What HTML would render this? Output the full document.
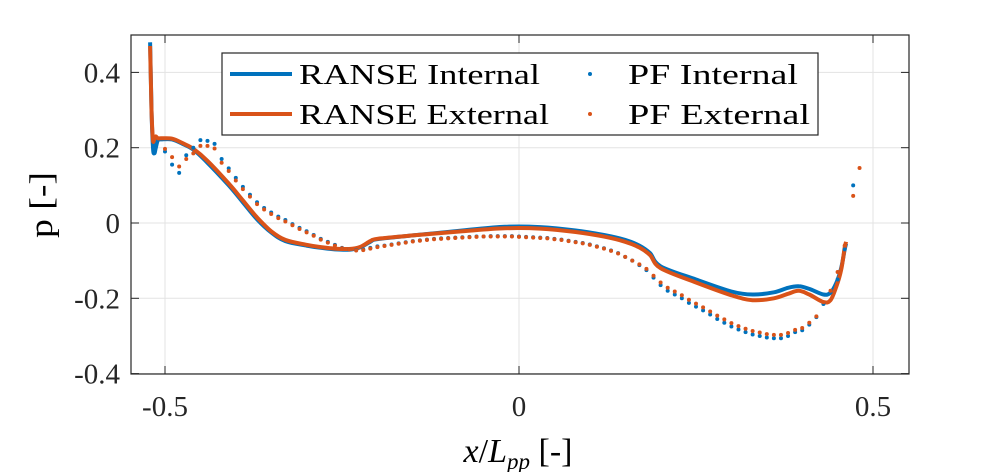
<!DOCTYPE html>
<html><head><meta charset="utf-8"><style>
html,body{margin:0;padding:0;background:#fff;}
svg{display:block;font-family:"Liberation Serif",serif;}
</style></head><body>
<svg id="chart" width="1004" height="472" viewBox="0 0 1004 472" xmlns="http://www.w3.org/2000/svg">
<rect x="0" y="0" width="1004" height="472" fill="#fff"/>
<g id="grid"></g>
<g id="series"></g>
<g id="axes"></g>
<text x="52" y="205" font-size="33" text-anchor="middle" textLength="66" lengthAdjust="spacingAndGlyphs" transform="rotate(-90 52 205)">p [-]</text>
<text x="518" y="462" font-size="34" text-anchor="middle"><tspan font-style="italic">x</tspan>/<tspan font-style="italic">L</tspan><tspan font-style="italic" font-size="23" dy="7">pp</tspan><tspan dy="-7"> [-]</tspan></text>
<g>
<rect x="222" y="53" width="596" height="82" fill="#fff" stroke="#262626" stroke-width="1.2"/>
<line x1="230" y1="74" x2="292" y2="74" stroke="#0072BD" stroke-width="4"/>
<text x="299" y="84" font-size="29" textLength="241" lengthAdjust="spacingAndGlyphs">RANSE Internal</text>
<line x1="230" y1="114" x2="292" y2="114" stroke="#D95319" stroke-width="4"/>
<text x="299" y="124" font-size="29" textLength="250" lengthAdjust="spacingAndGlyphs">RANSE External</text>
<circle cx="590" cy="74" r="2" fill="#0072BD"/>
<text x="628" y="84" font-size="29" textLength="170" lengthAdjust="spacingAndGlyphs">PF Internal</text>
<circle cx="590" cy="114" r="2" fill="#D95319"/>
<text x="628" y="124" font-size="29" textLength="182" lengthAdjust="spacingAndGlyphs">PF External</text>
</g>
</svg>
<script>
const xTicks=[-0.5,0,0.5];
const xTickLabels=["-0.5","0","0.5"];
const yTicks=[-0.4,-0.2,0,0.2,0.4];
const yTickLabels=["-0.4","-0.2","0","0.2","0.4"];
const ransX=[-0.521,-0.519,-0.517,-0.515,-0.513,-0.510,-0.505,-0.49,-0.475,-0.46,-0.44,-0.41,-0.39,-0.37,-0.35,-0.33,-0.30,-0.28,-0.26,-0.24,-0.225,-0.21,-0.2,-0.15,-0.08,-0.02,0.03,0.08,0.12,0.15,0.17,0.185,0.2,0.25,0.3,0.33,0.36,0.38,0.395,0.41,0.43,0.44,0.448,0.455,0.46,0.462];
const ransIn=[0.48,0.3,0.2,0.185,0.2,0.22,0.222,0.222,0.21,0.195,0.16,0.1,0.055,0.01,-0.025,-0.048,-0.06,-0.066,-0.07,-0.071,-0.065,-0.05,-0.043,-0.033,-0.02,-0.01,-0.011,-0.02,-0.032,-0.045,-0.06,-0.08,-0.115,-0.15,-0.182,-0.19,-0.184,-0.172,-0.168,-0.175,-0.19,-0.185,-0.16,-0.12,-0.07,-0.055];
const ransEx=[0.47,0.3,0.22,0.225,0.23,0.225,0.225,0.224,0.212,0.197,0.165,0.105,0.06,0.015,-0.022,-0.045,-0.058,-0.064,-0.068,-0.069,-0.064,-0.048,-0.042,-0.033,-0.022,-0.014,-0.015,-0.024,-0.036,-0.05,-0.065,-0.085,-0.12,-0.158,-0.192,-0.205,-0.2,-0.188,-0.18,-0.19,-0.21,-0.205,-0.17,-0.125,-0.065,-0.05];
const pfX=[-0.50,-0.49,-0.48,-0.47,-0.46,-0.45,-0.44,-0.43,-0.42,-0.41,-0.40,-0.39,-0.38,-0.37,-0.36,-0.35,-0.34,-0.33,-0.32,-0.31,-0.30,-0.29,-0.28,-0.27,-0.26,-0.25,-0.24,-0.23,-0.22,-0.21,-0.20,-0.19,-0.18,-0.17,-0.16,-0.15,-0.14,-0.13,-0.12,-0.11,-0.10,-0.09,-0.08,-0.07,-0.06,-0.05,-0.04,-0.03,-0.02,-0.01,0,0.01,0.02,0.03,0.04,0.05,0.06,0.07,0.08,0.09,0.10,0.11,0.12,0.13,0.14,0.15,0.16,0.17,0.18,0.19,0.20,0.21,0.22,0.23,0.24,0.25,0.26,0.27,0.28,0.29,0.30,0.31,0.32,0.33,0.34,0.35,0.36,0.37,0.38,0.39,0.40,0.41,0.42,0.43,0.44,0.45,0.46,0.472];
const pfIn=[0.19,0.155,0.133,0.18,0.2,0.22,0.218,0.21,0.17,0.145,0.12,0.096,0.075,0.055,0.04,0.028,0.017,0.008,-0.003,-0.013,-0.022,-0.032,-0.042,-0.05,-0.058,-0.066,-0.07,-0.072,-0.07,-0.066,-0.062,-0.06,-0.057,-0.054,-0.051,-0.048,-0.046,-0.044,-0.042,-0.041,-0.04,-0.039,-0.038,-0.037,-0.036,-0.036,-0.035,-0.035,-0.035,-0.035,-0.036,-0.037,-0.038,-0.039,-0.04,-0.042,-0.044,-0.047,-0.05,-0.053,-0.057,-0.062,-0.067,-0.073,-0.08,-0.09,-0.1,-0.112,-0.125,-0.145,-0.165,-0.18,-0.19,-0.2,-0.212,-0.222,-0.232,-0.243,-0.255,-0.265,-0.275,-0.283,-0.29,-0.296,-0.3,-0.304,-0.306,-0.306,-0.3,-0.29,-0.285,-0.27,-0.25,-0.215,-0.185,-0.15,-0.07,0.1];
const pfEx=[0.197,0.175,0.15,0.17,0.185,0.205,0.205,0.198,0.16,0.138,0.113,0.09,0.07,0.05,0.036,0.024,0.013,0.004,-0.006,-0.016,-0.025,-0.034,-0.044,-0.052,-0.06,-0.067,-0.07,-0.073,-0.072,-0.068,-0.064,-0.061,-0.058,-0.055,-0.052,-0.049,-0.047,-0.045,-0.043,-0.042,-0.041,-0.04,-0.039,-0.038,-0.037,-0.036,-0.036,-0.036,-0.036,-0.036,-0.037,-0.038,-0.039,-0.04,-0.041,-0.043,-0.045,-0.048,-0.051,-0.054,-0.058,-0.063,-0.068,-0.074,-0.081,-0.09,-0.1,-0.11,-0.122,-0.14,-0.158,-0.172,-0.182,-0.192,-0.204,-0.214,-0.224,-0.235,-0.246,-0.256,-0.266,-0.274,-0.281,-0.287,-0.291,-0.295,-0.297,-0.297,-0.292,-0.284,-0.279,-0.265,-0.248,-0.21,-0.18,-0.13,-0.06,0.072];
const pfExTailX=[0.481];
const pfExTail=[0.146];

const NS="http://www.w3.org/2000/svg";
const L=131,R=909,T=35,B=374;
const sx=v=>519+v*708;
const sy=v=>223-v*376.5;
function mk(tag,attrs,parent){const e=document.createElementNS(NS,tag);for(const k in attrs)e.setAttribute(k,attrs[k]);parent.appendChild(e);return e;}
const grid=document.getElementById('grid'),axes=document.getElementById('axes'),ser=document.getElementById('series');
xTicks.forEach((t,i)=>{
  const g=mk('line',{x1:sx(t),x2:sx(t),y1:T,y2:B,stroke:'#e3e3e3','stroke-width':1},grid);
  
  
  mk('line',{x1:sx(t),x2:sx(t),y1:B,y2:B-8,stroke:'#262626','stroke-width':1},axes);
  mk('line',{x1:sx(t),x2:sx(t),y1:T,y2:T+8,stroke:'#262626','stroke-width':1},axes);
  const tx=mk('text',{x:sx(t),y:B+42,'font-size':29,'text-anchor':'middle',fill:'#262626'},axes);
  tx.textContent=xTickLabels[i];
  
  
});
yTicks.forEach((t,i)=>{
  const g=mk('line',{x1:L,x2:R,y1:sy(t),y2:sy(t),stroke:'#e3e3e3','stroke-width':1},grid);
  
  
  mk('line',{x1:L,x2:L+8,y1:sy(t),y2:sy(t),stroke:'#262626','stroke-width':1},axes);
  mk('line',{x1:R,x2:R-8,y1:sy(t),y2:sy(t),stroke:'#262626','stroke-width':1},axes);
  const tx=mk('text',{x:L-11,y:sy(t)+10,'font-size':29,'text-anchor':'end',fill:'#262626'},axes);
  tx.textContent=yTickLabels[i];
  
  
});
const frame=mk('rect',{x:L,y:T,width:R-L,height:B-T,fill:'none',stroke:'#262626','stroke-width':1.2},axes);


function line(xs,ys,col,name){
  const P=xs.map((x,i)=>[sx(x),sy(ys[i])]);
  let d='M'+P[0][0].toFixed(1)+','+P[0][1].toFixed(1);
  for(let i=0;i<P.length-1;i++){
    const p0=P[Math.max(0,i-1)],p1=P[i],p2=P[i+1],p3=P[Math.min(P.length-1,i+2)];
    const c1=[p1[0]+(p2[0]-p0[0])/6,p1[1]+(p2[1]-p0[1])/6];
    const c2=[p2[0]-(p3[0]-p1[0])/6,p2[1]-(p3[1]-p1[1])/6];
    d+='C'+c1[0].toFixed(1)+','+c1[1].toFixed(1)+' '+c2[0].toFixed(1)+','+c2[1].toFixed(1)+' '+p2[0].toFixed(1)+','+p2[1].toFixed(1);
  }
  const p=mk('path',{d:d,fill:'none',stroke:col,'stroke-width':4,'stroke-linejoin':'round'},ser);
  
  
}
function dots(xs,ys,col,name){
  xs.forEach((x,i)=>{
    const c=mk('circle',{cx:sx(x),cy:sy(ys[i]),r:2,fill:col},ser);
    
    
  });
}
line(ransX,ransIn,'#0072BD','ranse-internal-line');
line(ransX,ransEx,'#D95319','ranse-external-line');
dots(pfX,pfIn,'#0072BD','pf-internal-point');
dots(pfX,pfEx,'#D95319','pf-external-point');
dots(pfExTailX,pfExTail,'#D95319','pf-external-point');
</script>
</body></html>
